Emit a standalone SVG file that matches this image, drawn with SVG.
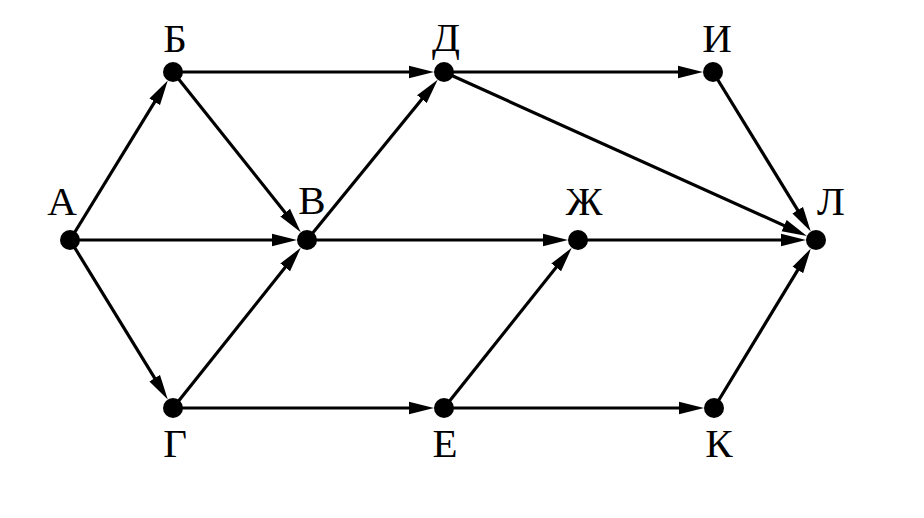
<svg xmlns="http://www.w3.org/2000/svg" width="924" height="518" viewBox="0 0 924 518">
<style>
.e{stroke:#000;stroke-width:3.2;fill:none;marker-end:url(#ah)}
.n{fill:#000}
.t{font-family:"Liberation Serif","Times New Roman",serif;font-size:41px;fill:#000;text-anchor:middle}
</style>
<defs>
<marker id="ah" markerUnits="userSpaceOnUse" markerWidth="26" markerHeight="14" viewBox="0 0 26 14" refX="17" refY="7" orient="auto">
<path d="M0,0.8 L25,7 L0,13.2 z" fill="#000"/>
</marker>
</defs>
<rect width="924" height="518" fill="#fff"/>
<g id="edges">
<line class="e" x1="70" y1="240" x2="163.59" y2="87.35"/>
<line class="e" x1="70" y1="240" x2="289" y2="240"/>
<line class="e" x1="70" y1="240" x2="163.59" y2="392.65"/>
<line class="e" x1="173" y1="72" x2="426" y2="72"/>
<line class="e" x1="173" y1="72" x2="295.78" y2="225.93"/>
<line class="e" x1="173" y1="408" x2="295.78" y2="254.07"/>
<line class="e" x1="173" y1="408" x2="426" y2="408"/>
<line class="e" x1="307" y1="240" x2="432.62" y2="85.95"/>
<line class="e" x1="307" y1="240" x2="560" y2="240"/>
<line class="e" x1="444" y1="72" x2="695" y2="72"/>
<line class="e" x1="444" y1="72" x2="799.6" y2="232.59"/>
<line class="e" x1="713" y1="72" x2="806.59" y2="224.65"/>
<line class="e" x1="578" y1="240" x2="798" y2="240"/>
<line class="e" x1="444" y1="408" x2="566.78" y2="254.07"/>
<line class="e" x1="444" y1="408" x2="696" y2="408"/>
<line class="e" x1="714" y1="408" x2="806.66" y2="255.39"/>
</g>
<g id="A"><circle class="n" cx="70" cy="240" r="10"/><text class="t" x="62" y="215">А</text></g>
<g id="B"><circle class="n" cx="173" cy="72" r="10"/><text class="t" x="175" y="52">Б</text></g>
<g id="V"><circle class="n" cx="307" cy="240" r="10"/><text class="t" x="312" y="214">В</text></g>
<g id="G"><circle class="n" cx="173" cy="408" r="10"/><text class="t" x="175" y="457">Г</text></g>
<g id="D"><circle class="n" cx="444" cy="72" r="10"/><text class="t" x="446" y="51">Д</text></g>
<g id="E"><circle class="n" cx="444" cy="408" r="10"/><text class="t" x="445" y="457">Е</text></g>
<g id="Zh"><circle class="n" cx="578" cy="240" r="10"/><text class="t" x="584" y="215">Ж</text></g>
<g id="I"><circle class="n" cx="713" cy="72" r="10"/><text class="t" x="717" y="52">И</text></g>
<g id="K"><circle class="n" cx="714" cy="408" r="10"/><text class="t" x="719" y="457">К</text></g>
<g id="L"><circle class="n" cx="816" cy="240" r="10"/><text class="t" x="831" y="215">Л</text></g>
</svg>
